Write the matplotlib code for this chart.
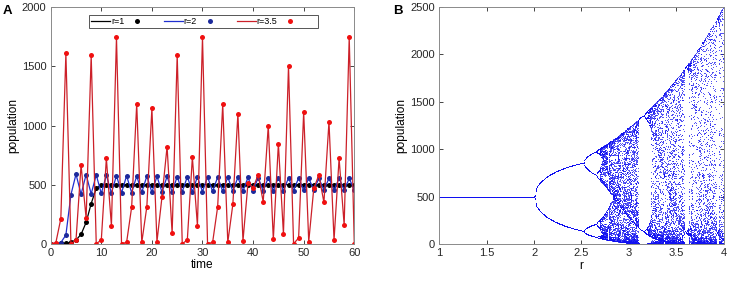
import numpy as np
import matplotlib
matplotlib.use('Agg')
import matplotlib.pyplot as plt
from matplotlib.ticker import FormatStrFormatter

plt.rcParams['font.family'] = ['Liberation Sans', 'DejaVu Sans']

# panel A: population over time
time = list(range(61))
pop_r1 = [0, 1, 2, 4, 12, 31, 79, 180, 340, 468, 498, 500, 500, 500, 500, 500,
          500, 500, 500, 500, 500, 500, 500, 500, 500, 500, 500, 500, 500, 500,
          500, 500, 500, 500, 500, 500, 500, 500, 500, 500, 500, 500, 500, 500,
          500, 500, 500, 500, 500, 500, 500, 500, 500, 500, 500, 500, 500, 500,
          500, 500, 500]
pop_r2 = [0, 1, 10, 73, 415, 588, 418, 585, 421, 582, 425, 579, 428, 577, 430,
          575, 432, 573, 434, 572, 435, 570, 437, 569, 438, 568, 439, 567, 440,
          566, 441, 565, 442, 564, 443, 563, 444, 562, 445, 561, 446, 560, 447,
          559, 448, 558, 449, 557, 450, 556, 451, 555, 452, 554, 453, 554, 453,
          553, 454, 552, 455]
pop_r35 = [0, 5, 212, 1610, 0, 30, 666, 214, 1594, 0, 31, 722, 152, 1746, 0,
           11, 310, 1182, 11, 313, 1145, 17, 398, 821, 87, 1597, 0, 31, 731, 152,
           1746, 0, 11, 313, 1179, 11, 333, 1100, 23, 516, 474, 581, 355, 996,
           37, 846, 82, 1504, 0, 48, 1114, 17, 469, 581, 350, 1032, 31, 722, 158,
           1746, 0]

K = 500.0
r_min, r_max = 1.0, 4.0
r_vals = np.linspace(r_min, r_max, 601)
n_skip, n_keep = 300, 55

fig = plt.figure(figsize=(7.37, 2.83), dpi=100)
axA = fig.add_axes([0.0688, 0.1389, 0.4119, 0.8351])
axB = fig.add_axes([0.596, 0.137, 0.386, 0.839])

lw = 0.9
ms = 3.6
axA.plot(time, pop_r1, '-', color='black', lw=lw, label='r=1')
axA.plot(time, pop_r1, 'o', color='black', ms=ms, mew=0, label='     ')
axA.plot(time, pop_r2, '-', color='#1f2fd0', lw=lw, label='r=2')
axA.plot(time, pop_r2, 'o', color='#1c2a9c', ms=ms, mew=0, label='     ')
axA.plot(time, pop_r35, '-', color='#cc2029', lw=lw, label='r=3.5')
axA.plot(time, pop_r35, 'o', color='#f01010', ms=ms, mew=0, label='      ')

axA.set_xlim(0, 60)
axA.set_ylim(0, 2000)
axA.set_xticks(range(0, 61, 10))
axA.set_yticks(range(0, 2001, 500))
axA.set_xlabel('time', fontsize=8.6, labelpad=1)
axA.set_ylabel('population', fontsize=8.6, labelpad=2)

leg = axA.legend(ncol=6, loc='upper left', bbox_to_anchor=(0.126, 0.969),
                 borderaxespad=0, fontsize=6.5, handlelength=2.1,
                 handletextpad=0.1, columnspacing=0.4, borderpad=0.25,
                 fancybox=False, framealpha=1, edgecolor='#555555')
leg.get_frame().set_linewidth(0.7)

# bifurcation points
N = np.full(r_vals.shape, 100.0)
for i in range(n_skip):
    N = N * np.exp(r_vals * (1 - N / K))
rr, nn = [], []
for i in range(n_keep):
    N = N * np.exp(r_vals * (1 - N / K))
    rr.append(r_vals.copy())
    nn.append(N.copy())
rr = np.concatenate(rr)
nn = np.concatenate(nn)
axB.plot(rr, nn, '.', color='#1010f0', ms=1.5, mew=0, alpha=0.85)

axB.set_xlim(1, 4)
axB.set_ylim(0, 2500)
axB.set_xticks([1, 1.5, 2, 2.5, 3, 3.5, 4])
axB.set_yticks(range(0, 2501, 500))
axB.xaxis.set_major_formatter(FormatStrFormatter('%g'))
axB.set_xlabel('r', fontsize=8.6, labelpad=1)
axB.set_ylabel('population', fontsize=8.6, labelpad=2)

for ax in (axA, axB):
    ax.tick_params(direction='in', length=3, width=0.6, labelsize=8,
                   top=True, right=True, pad=3, colors='#262626')
    for s in ax.spines.values():
        s.set_linewidth(0.7)
        s.set_color('#8a8a8a')

fig.text(3 / 737, 1 - 5 / 283, 'A', fontsize=9.5, fontweight='bold', va='top', ha='left')
fig.text(393 / 737, 1 - 5 / 283, 'B', fontsize=9.5, fontweight='bold', va='top', ha='left')

fig.savefig('out.png', dpi=100)
